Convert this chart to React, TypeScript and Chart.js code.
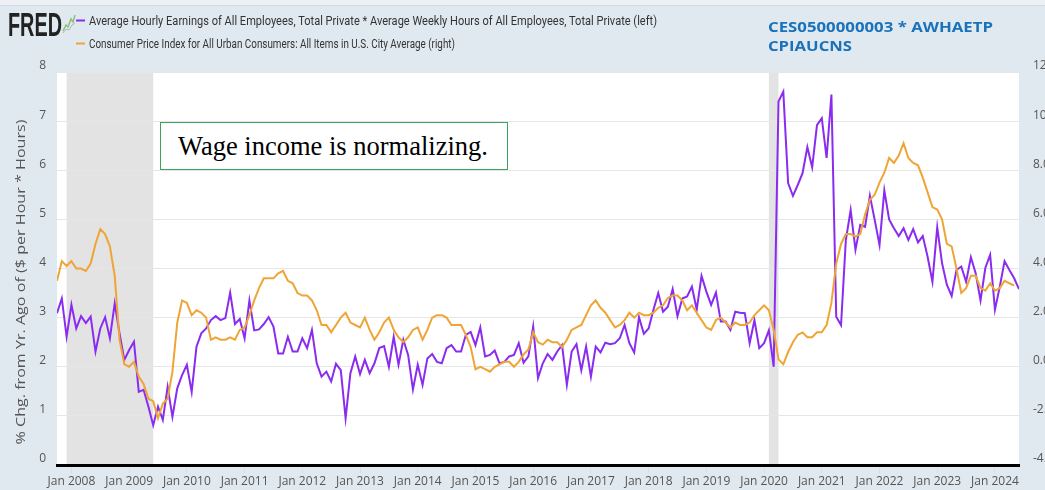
import React, { useEffect, useRef } from 'react';
import { Chart, registerables } from 'chart.js';

Chart.register(...registerables);

// Monthly observations start in October 2007
const START_YEAR = 2007;
const START_MONTH = 10;

// % change from a year ago, Avg Hourly Earnings * Avg Weekly Hours (left axis), Oct 2007 - Jun 2024
const earningsChg = [
  3.09, 3.39, 2.61, 3.26, 2.78, 3.03, 2.89, 3.02, 2.31, 2.78, 3.01, 2.58,
  3.29, 2.68, 2.14, 2.34, 2.51, 1.49, 1.53, 1.19, 0.81, 1.19, 0.92, 1.59,
  0.98, 1.56, 1.83, 2.04, 1.49, 2.41, 2.68, 2.78, 2.95, 3.03, 2.95, 2.99,
  3.51, 2.87, 2.97, 2.58, 3.35, 2.74, 2.76, 2.87, 3.01, 2.82, 2.27, 2.27,
  2.61, 2.31, 2.31, 2.58, 2.38, 2.75, 2.07, 1.80, 1.90, 1.70, 2.06, 1.93,
  0.95, 1.87, 2.21, 1.85, 2.14, 1.87, 2.07, 2.38, 2.42, 2.00, 2.61, 2.04,
  2.55, 2.24, 1.54, 2.04, 1.63, 2.17, 2.26, 2.10, 2.07, 2.38, 2.44, 2.31,
  2.31, 2.65, 2.71, 2.44, 2.80, 2.21, 2.24, 2.33, 2.07, 2.10, 2.21, 2.24,
  2.48, 2.08, 2.21, 2.82, 1.77, 2.07, 2.26, 2.14, 2.31, 2.44, 1.63, 2.31,
  2.46, 1.93, 2.41, 1.80, 2.41, 2.29, 2.49, 2.46, 2.48, 2.58, 2.85, 2.48,
  2.29, 3.01, 2.67, 2.78, 3.16, 3.50, 3.12, 3.22, 3.58, 3.03, 3.39, 3.43,
  3.63, 3.16, 3.85, 3.53, 3.26, 3.51, 2.92, 2.92, 2.75, 3.12, 3.10, 3.09,
  2.48, 2.95, 2.38, 2.48, 2.74, 2.00, 7.40, 7.60, 5.74, 5.48, 5.70, 5.94,
  6.47, 6.06, 6.92, 7.06, 6.25, 7.54, 3.02, 2.85, 4.58, 5.19, 4.38, 4.89,
  4.85, 5.48, 4.99, 4.48, 5.59, 5.00, 4.82, 4.66, 4.82, 4.58, 4.80, 4.53,
  4.66, 4.24, 3.73, 4.84, 4.11, 3.67, 3.44, 3.97, 4.04, 3.73, 4.23, 3.90,
  3.35, 4.01, 4.28, 3.16, 3.63, 4.15, 3.97, 3.80, 3.58,
];

// CPI-U all items, % change from a year ago (right axis), Oct 2007 - May 2024
const cpiChg = [
  3.5, 4.3, 4.1,
  4.3, 4.0, 4.0, 3.9, 4.2, 5.0, 5.6, 5.4, 4.9, 3.7, 1.1, 0.1,
  0.0, 0.2, -0.4, -0.7, -1.3, -1.4, -2.1, -1.5, -1.3, -0.2, 1.8, 2.7,
  2.6, 2.1, 2.3, 2.2, 2.0, 1.1, 1.2, 1.1, 1.1, 1.2, 1.1, 1.5,
  1.6, 2.1, 2.7, 3.2, 3.6, 3.6, 3.6, 3.8, 3.9, 3.5, 3.4, 3.0,
  2.9, 2.9, 2.7, 2.3, 1.7, 1.7, 1.4, 1.7, 2.0, 2.2, 1.8, 1.7,
  1.6, 2.0, 1.5, 1.1, 1.4, 1.8, 2.0, 1.5, 1.2, 1.0, 1.2, 1.5,
  1.6, 1.1, 1.5, 2.0, 2.1, 2.1, 2.0, 1.7, 1.7, 1.7, 1.3, 0.8,
  -0.1, 0.0, -0.1, -0.2, 0.0, 0.1, 0.2, 0.2, 0.0, 0.2, 0.5, 0.7,
  1.4, 1.0, 0.9, 1.1, 1.0, 1.0, 0.8, 1.1, 1.5, 1.6, 1.7, 2.1,
  2.5, 2.7, 2.4, 2.2, 1.9, 1.6, 1.7, 1.9, 2.2, 2.0, 2.2, 2.1,
  2.1, 2.2, 2.4, 2.5, 2.8, 2.9, 2.9, 2.7, 2.3, 2.5, 2.2, 1.9,
  1.6, 1.5, 1.9, 2.0, 1.8, 1.6, 1.8, 1.7, 1.7, 1.8, 2.1, 2.3,
  2.5, 2.3, 1.5, 0.3, 0.1, 0.6, 1.0, 1.3, 1.4, 1.2, 1.2, 1.4,
  1.4, 1.7, 2.6, 4.2, 5.0, 5.4, 5.4, 5.3, 5.4, 6.2, 6.8, 7.0,
  7.5, 7.9, 8.5, 8.3, 8.6, 9.1, 8.5, 8.3, 8.2, 7.7, 7.1, 6.5,
  6.4, 6.0, 5.0, 4.9, 4.0, 3.0, 3.2, 3.7, 3.7, 3.2, 3.1, 3.4,
  3.1, 3.2, 3.5, 3.4, 3.3,
];

const yearTicks = [2008, 2009, 2010, 2011, 2012, 2013, 2014, 2015, 2016, 2017, 2018, 2019, 2020, 2021, 2022, 2023, 2024];
const leftTicks = [0, 1, 2, 3, 4, 5, 6, 7, 8];
const rightTicks = [-4, -2, 0, 2, 4, 6, 8, 10, 12];
const recessionStarts = ['2007-12', '2020-02'];
const recessionEnds = ['2009-06', '2020-04'];
const X_END = '2024-06';

const legendLine1 = 'Average Hourly Earnings of All Employees, Total Private * Average Weekly Hours of All Employees, Total Private (left)';
const legendLine2 = 'Consumer Price Index for All Urban Consumers: All Items in U.S. City Average (right)';
const seriesIds1 = 'CES0500000003 * AWHAETP';
const seriesIds2 = 'CPIAUCNS';
const yTitle = '% Chg. from Yr. Ago of ($ per Hour * Hours)';
const noteText = 'Wage income is normalizing.';

const PURPLE = '#8a2cf0';
const ORANGE = '#eea535';
const BG = '#e1e9f0';

const ymToT = (ym: string) => {
  const [y, m] = ym.split('-').map(Number);
  return y + (m - 1) / 12;
};
const indexToT = (i: number) => START_YEAR + (START_MONTH - 1 + i) / 12;

const bgPlugin = {
  id: 'fredBg',
  beforeDraw(chart: any) {
    const { ctx, chartArea, scales } = chart;
    const { left, top, right, bottom } = chartArea;
    ctx.save();
    ctx.fillStyle = BG;
    ctx.fillRect(0, 0, chart.width, chart.height);
    ctx.fillStyle = '#ffffff';
    ctx.fillRect(left, top, right - left, bottom - top);
    ctx.fillStyle = '#e3e3e3';
    recessionStarts.forEach((s, k) => {
      const x0 = scales.x.getPixelForValue(ymToT(s));
      const x1 = scales.x.getPixelForValue(ymToT(recessionEnds[k]));
      ctx.fillRect(x0, top, x1 - x0, bottom - top);
    });
    ctx.restore();
  },
};

export default function App() {
  const canvasRef = useRef<HTMLCanvasElement | null>(null);

  useEffect(() => {
    if (!canvasRef.current) return;
    const tickFont = { family: "'Open Sans', sans-serif", size: 12 };
    const chart = new Chart(canvasRef.current, {
      type: 'line',
      data: {
        datasets: [
          {
            label: legendLine2,
            data: cpiChg.map((v, i) => ({ x: indexToT(i), y: v })),
            borderColor: ORANGE,
            borderWidth: 2,
            pointRadius: 0,
            yAxisID: 'y1',
            order: 0,
          },
          {
            label: legendLine1,
            data: earningsChg.map((v, i) => ({ x: indexToT(i), y: v })),
            borderColor: PURPLE,
            borderWidth: 2,
            pointRadius: 0,
            yAxisID: 'y',
            order: 1,
          },
        ],
      },
      options: {
        responsive: false,
        animation: false,
        layout: { padding: { top: 72, left: 0, right: 0, bottom: 0 } },
        plugins: { legend: { display: false }, tooltip: { enabled: false } },
        scales: {
          x: {
            type: 'linear',
            min: indexToT(0),
            max: ymToT(X_END),
            afterBuildTicks: (s: any) => {
              s.ticks = yearTicks.map((v) => ({ value: v }));
            },
            ticks: {
              callback: (v: any) => 'Jan ' + v,
              font: tickFont,
              color: '#555',
              maxRotation: 0,
              autoSkip: false,
              padding: 1,
            },
            grid: { drawOnChartArea: false, drawTicks: true, tickLength: 8, color: '#d6dee6' },
            border: { display: true, color: '#000', width: 3 },
            afterFit: (s: any) => {
              s.height = 25;
            },
          },
          y: {
            position: 'left',
            min: 0,
            max: 8,
            afterBuildTicks: (s: any) => {
              s.ticks = leftTicks.map((v) => ({ value: v }));
            },
            ticks: { font: tickFont, color: '#555', padding: 11, labelOffset: -6 },
            grid: { color: '#e6e6e6', drawTicks: false, lineWidth: 1 },
            border: { display: false },
            afterFit: (s: any) => {
              s.width = 57;
            },
          },
          y1: {
            position: 'right',
            min: -4,
            max: 12,
            afterBuildTicks: (s: any) => {
              s.ticks = rightTicks.map((v) => ({ value: v }));
            },
            ticks: {
              font: tickFont,
              color: '#555',
              padding: 14,
              labelOffset: -6,
              callback: (v: any) => Number(v).toFixed(1),
            },
            grid: { display: false, drawTicks: false },
            border: { display: false },
            afterFit: (s: any) => {
              s.width = 26;
            },
          },
        },
      },
      plugins: [bgPlugin],
    } as any);
    return () => chart.destroy();
  }, []);

  return (
    <div
      style={{
        position: 'fixed',
        left: 0,
        top: 0,
        width: 1045,
        height: 490,
        overflow: 'hidden',
        background: BG,
      }}
    >
      <canvas
        ref={canvasRef}
        width={1045}
        height={490}
        style={{ position: 'absolute', left: 0, top: 0, width: 1045, height: 490 }}
      />
      <svg
        width={1045}
        height={490}
        style={{ position: 'absolute', left: 0, top: 0, pointerEvents: 'none' }}
      >
        <rect x={0} y={0} width={1045} height={5} fill="#edf1f5" />
        <line x1={0} y1={5.5} x2={1045} y2={5.5} stroke="#d3dbe3" strokeWidth={1} />
        <text
          x={8}
          y={36}
          fontFamily="'Liberation Sans', Arial, sans-serif"
          fontWeight={900}
          fontSize={34}
          fill="#222"
          textLength={54}
          lengthAdjust="spacingAndGlyphs"
        >
          FRED
        </text>
        <polyline points="63,31 66,25 68,27 71,19 73,22 75,15" fill="none" stroke="#8fbf7a" strokeWidth={1.5} />
        <polyline points="63,33 66,29 69,30 72,25 75,23" fill="none" stroke="#a9b8c6" strokeWidth={1} />
        <line x1={76} y1={20.5} x2={85} y2={20.5} stroke={PURPLE} strokeWidth={2} />
        <line x1={76} y1={43.5} x2={85} y2={43.5} stroke={ORANGE} strokeWidth={2} />
        <text
          x={89}
          y={25}
          fontFamily="Roboto, 'Open Sans', sans-serif"
          fontSize={13}
          fill="#333"
          textLength={568}
          lengthAdjust="spacingAndGlyphs"
        >
          {legendLine1}
        </text>
        <text
          x={89}
          y={48}
          fontFamily="Roboto, 'Open Sans', sans-serif"
          fontSize={13}
          fill="#333"
          textLength={366}
          lengthAdjust="spacingAndGlyphs"
        >
          {legendLine2}
        </text>
        <text
          x={768}
          y={32}
          fontFamily="'Open Sans', sans-serif"
          fontWeight={700}
          fontSize={15}
          fill="#1a72bb"
          textLength={225}
          lengthAdjust="spacingAndGlyphs"
        >
          {seriesIds1}
        </text>
        <text
          x={768}
          y={51}
          fontFamily="'Open Sans', sans-serif"
          fontWeight={700}
          fontSize={15}
          fill="#1a72bb"
          textLength={84}
          lengthAdjust="spacingAndGlyphs"
        >
          {seriesIds2}
        </text>
        <text
          transform="translate(25,282) rotate(-90)"
          textAnchor="middle"
          fontFamily="'Open Sans', sans-serif"
          fontSize={13}
          fill="#555"
          textLength={325}
          lengthAdjust="spacingAndGlyphs"
        >
          {yTitle}
        </text>
      </svg>
      <div
        style={{
          position: 'absolute',
          left: 160,
          top: 122,
          width: 348,
          height: 48,
          boxSizing: 'border-box',
          border: '1px solid #3aa55a',
          background: '#ffffff',
          display: 'flex',
          alignItems: 'center',
          paddingLeft: 17,
          fontFamily: "'Liberation Serif', 'Times New Roman', serif",
          fontSize: 26.5,
          color: '#000',
          whiteSpace: 'nowrap',
        }}
      >
        {noteText}
      </div>
    </div>
  );
}
